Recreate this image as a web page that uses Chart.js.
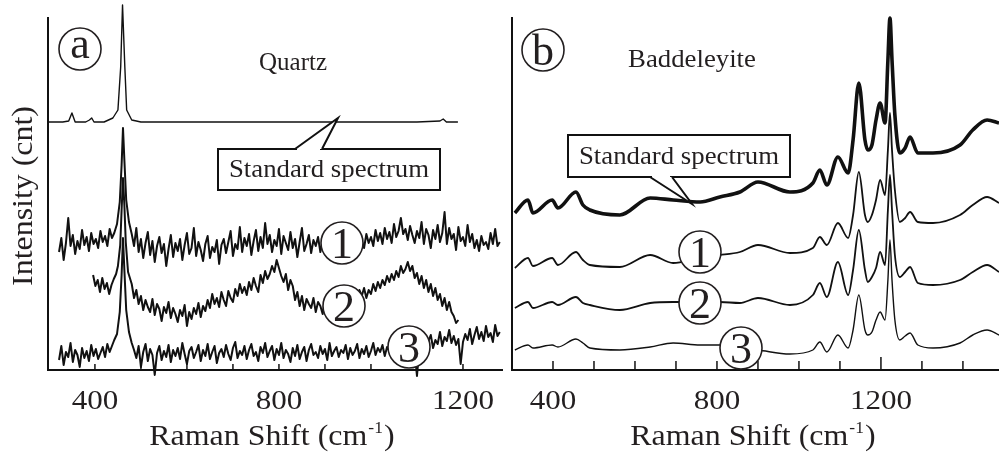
<!DOCTYPE html>
<html>
<head>
<meta charset="utf-8">
<script src="https://cdn.jsdelivr.net/npm/chart.js@4"></script>
<style>
body { margin: 0; background: #fff; }
#wrap { position: relative; width: 999px; height: 458px; }
canvas { position: absolute; top: 0; }
</style>
</head>
<body>
<div id="wrap">
  <canvas id="chartA" width="508" height="458" style="left:0"></canvas>
  <canvas id="chartB" width="499" height="458" style="left:500px"></canvas>
</div>
<script>
// ---- panel (a) quartz ----
const aStdX = [298, 330, 343, 350, 357, 380, 388, 393, 398, 420, 439, 450, 456, 460, 465, 469, 480, 500, 700, 900, 1100, 1150, 1157, 1164, 1189];
const aStd  = [248, 248, 249, 257, 248, 248, 250, 252, 248, 248, 252, 260, 303, 365, 303, 260, 250, 248, 248, 248, 248, 249, 251, 248, 248];

// shared shift grid for spectra 1 and 3
const aX13 = [322, 327, 332, 337, 342, 347, 352, 357, 362, 367, 372, 377, 382, 387, 392, 397, 402, 407, 412, 417, 422, 427, 432, 437, 442,
  448, 454, 458, 461, 464, 468, 474,
  480, 485, 490, 495, 500, 505, 510, 515, 520, 525, 530, 535, 540, 545, 550, 555, 560, 565, 570, 575,
  580, 585, 590, 595, 600, 605, 610, 615, 620, 625, 630, 635, 640, 645, 650, 655, 660, 665, 670, 675,
  680, 685, 690, 695, 700, 705, 710, 715, 720, 725, 730, 735, 740, 745, 750, 755, 760, 765, 770, 775,
  780, 785, 790, 795, 800, 805, 810, 815, 820, 825, 830, 835, 840, 845, 850, 855, 860, 865, 870, 875,
  880, 885, 890, 895, 900, 905, 910, 915, 920, 925, 930, 935, 940, 945, 950, 955, 960, 965, 970, 975,
  980, 985, 990, 995, 1000, 1005, 1010, 1015, 1020, 1025, 1030, 1035, 1040, 1045, 1050, 1055, 1060, 1065, 1070, 1075,
  1080, 1085, 1090, 1095, 1100, 1105, 1110, 1115, 1120, 1125, 1130, 1135, 1140, 1145, 1150, 1155, 1160, 1165, 1170, 1175,
  1180, 1185, 1190, 1195, 1200, 1205, 1210, 1215, 1220, 1225, 1230, 1235, 1240, 1245, 1250, 1255, 1260, 1265, 1270, 1275,
  1280];
const aSpec1 = [118, 132, 110, 127, 152, 124, 135, 116, 129, 121, 140, 125, 133, 119, 137, 126, 131, 122, 139, 128, 134, 124, 141, 132, 137,
  146, 168, 205, 242, 210, 170, 148,
  136, 124, 142, 118, 131, 112, 127, 138, 115, 129, 108, 124, 133, 117, 126, 104, 121, 135, 113, 127,
  119, 131, 110, 125, 137, 116, 122, 142, 114, 128, 120, 109, 126, 134, 112, 123, 118, 130, 106, 125,
  131, 117, 128, 139, 114, 126, 121, 143, 118, 132, 124, 136, 115, 129, 140, 119, 133, 122, 147, 126,
  135, 118, 130, 124, 141, 116, 134, 127, 120, 138, 122, 131, 113, 128, 142, 119, 126, 135, 117, 130,
  124, 133, 118, 129, 121, 136, 127, 123, 130, 125, 119, 132, 124, 128, 121, 135, 126, 118, 131, 124,
  129, 122, 136, 127, 133, 124, 140, 129, 137, 126, 142, 131, 138, 127, 146, 133, 139, 152, 136, 141,
  130, 144, 135, 127, 139, 132, 148, 126, 141, 135, 122, 140, 131, 145, 128, 137, 158, 126, 142, 131,
  136, 120, 143, 129, 133, 124, 145, 128, 136, 122, 130, 119, 134, 125, 128, 121, 137, 126, 141, 124,
  128];
const aSpec3 = [10, 24, 5, 18, 13, 27, 8, 20, 15, 3, 22, 12, 19, 9, 25, 14, 21, 11, 17, 23, 13, 26, 18, 24, 30,
  36, 58, 95, 132, 100, 60, 38,
  27, 20, 12, 24, 3, 18, 26, 9, 21, 15, -5, 17, 24, 10, 19, 13, 25, 8, 20, 14,
  22, 11, 27, 16, 6, 19, 23, 12, 18, 25, 9, 20, 14, 26, 11, 18, 24, 7, 17, 21,
  13, 25, 16, 10, 22, 28, 12, 19, 15, 24, 11, 20, 26, 14, 18, 9, 23, 17, 27, 13,
  19, 24, 10, 21, 15, 27, 12, 20, 16, 8, 22, 14, 25, 11, 18, 23, 9, 20, 26, 15,
  18, 12, 24, 16, 21, 10, 27, 14, 19, 23, 13, 20, 17, 25, 11, 22, 15, 19, 26, 12,
  21, 16, 24, 13, 19, 27, 15, 22, 18, 25, 14, 23, 19, 12, 26, 17, 21, 28, 16, 20,
  24, 15, 22, 18, -6, 20, 27, 31, 23, 29, 35, 22, 30, 26, 38, 24, 33, 29, 40, 27,
  34, 25, 31, 6, 28, 36, 30, 41, 26, 35, 43, 31, 38, 29, 44, 33, 37, 28, 45, 34,
  38];

const aX2 = [396, 401, 406, 411, 416, 421, 426, 431, 436, 441, 446,
  450, 455, 458, 461, 464, 467, 472,
  480, 485, 490, 495, 500, 505, 510, 515, 520, 525, 530, 535, 540, 545, 550, 555, 560, 565, 570, 575,
  580, 585, 590, 595, 600, 605, 610, 615, 620, 625, 630, 635, 640, 645, 650, 655, 660, 665, 670, 675,
  680, 685, 690, 695, 700, 705, 710, 715, 720, 725, 730, 735, 740, 745, 750, 755, 760, 765, 770, 775,
  780, 785, 790, 795, 800, 805, 810, 815, 820, 825, 830, 835, 840, 845, 850, 855, 860, 865, 870, 875,
  880, 885, 890, 895, 900, 905, 910, 915, 920, 925, 930, 935, 940, 945, 950, 955, 960, 965, 970, 975,
  980, 985, 990, 995, 1000, 1005, 1010, 1015, 1020, 1025, 1030, 1035, 1040, 1045, 1050, 1055, 1060, 1065, 1070, 1075,
  1080, 1085, 1090, 1095, 1100, 1105, 1110, 1115, 1120, 1125, 1130, 1135, 1140, 1145, 1150, 1155, 1160, 1165, 1170, 1175,
  1180, 1185, 1190];
const aSpec2 = [95, 84, 90, 78, 92, 81, 87, 76, 85, 91, 96,
  104, 125, 160, 192, 165, 128, 98,
  86, 72, 80, 66, 74, 60, 70, 63, 58, 71, 55, 66, 61, 49, 63, 57, 68, 52, 62, 56,
  48, 60, 54, 65, 44, 58, 51, 62, 56, 67, 53, 64, 59, 70, 62, 76, 66, 72, 63, 78,
  70, 64, 79, 72, 68, 81, 74, 86, 77, 83, 75, 88, 80, 92, 84, 78, 95, 87, 99, 91,
  96, 104, 98, 110, 102, 94, 88, 96, 80, 90, 84, 70, 78, 64, 74, 60, 71, 66, 62, 72,
  58, 68, 64, 56, 70, 62, 67, 60, 72, 65, 70, 63, 74, 66, 72, 78, 68, 76, 70, 80,
  74, 82, 72, 80, 76, 86, 79, 88, 82, 90, 85, 94, 88, 96, 90, 99, 93, 104, 97, 101,
  108, 99, 104, 92, 97, 86, 94, 82, 90, 78, 86, 74, 82, 70, 76, 64, 72, 60, 68, 58,
  54, 47, 50];

// ---- panel (b) baddeleyite ----
const bX = [307, 339, 351, 398, 412, 456, 473, 490, 563, 637, 693, 759, 807, 856, 900, 978, 1034, 1051, 1068, 1095, 1120,
  1132, 1146, 1161, 1168, 1178, 1188, 1198, 1210, 1217, 1222, 1227, 1234, 1246, 1259, 1271, 1290, 1327, 1393, 1424, 1459, 1488];
const bStd = [157, 170, 157, 170, 162, 178, 165, 160, 155, 172, 170, 168, 173, 178, 188, 178, 187, 200, 185, 213, 197,
  230, 287, 230, 220, 225, 250, 267, 247, 310, 352, 310, 255, 217, 222, 233, 217, 217, 225, 240, 250, 247];
const bSpec1 = [102, 112, 104, 112, 105, 118, 110, 105, 103, 115, 107, 113, 115, 118, 125, 117, 122, 133, 125, 147, 132,
  155, 198, 155, 148, 155, 170, 190, 175, 220, 257, 220, 180, 148, 152, 158, 148, 147, 155, 165, 173, 167];
const bSpec2 = [62, 68, 62, 68, 65, 73, 67, 65, 60, 67, 68, 68, 68, 67, 72, 65, 75, 87, 73, 108, 75,
  100, 140, 100, 88, 93, 102, 118, 105, 160, 195, 160, 115, 93, 98, 103, 87, 85, 90, 98, 105, 98];
const bSpec3 = [20, 25, 22, 25, 23, 31, 27, 22, 20, 23, 27, 25, 25, 22, 20, 16, 20, 28, 18, 35, 22,
  40, 75, 40, 35, 38, 50, 58, 50, 90, 130, 90, 50, 30, 34, 37, 25, 22, 27, 35, 40, 35];

const tickLabels = [400, 800, 1200];

const ink = '#231f20';
const serif = '"Liberation Serif", "Times New Roman", serif';
const pts = (xs, ys) => xs.map((x, i) => ({ x: x, y: ys[i] }));

function txt(ctx, s, x, y, size, sx, align) {
  ctx.save();
  ctx.font = size + 'px ' + serif;
  ctx.fillStyle = ink;
  ctx.textAlign = align || 'center';
  ctx.textBaseline = 'alphabetic';
  ctx.translate(x, y);
  ctx.scale(sx, 1);
  ctx.fillText(s, 0, 0);
  ctx.restore();
}

function ramanTitle(ctx, cx, y) {
  const size = 29, sx = 1.1, sup = size * 0.55;
  ctx.save();
  ctx.font = size + 'px ' + serif;
  const w1 = ctx.measureText('Raman Shift (cm').width;
  const w3 = ctx.measureText(')').width;
  ctx.font = sup + 'px ' + serif;
  const w2 = ctx.measureText('-1').width;
  const total = (w1 + w2 + w3 + 2) * sx;
  ctx.translate(cx - total / 2, y);
  ctx.scale(sx, 1);
  ctx.fillStyle = ink;
  ctx.textAlign = 'left';
  ctx.font = size + 'px ' + serif;
  ctx.fillText('Raman Shift (cm', 0, 0);
  ctx.font = sup + 'px ' + serif;
  ctx.fillText('-1', w1 + 1, -size * 0.42);
  ctx.font = size + 'px ' + serif;
  ctx.fillText(')', w1 + w2 + 2, 0);
  ctx.restore();
}

function circled(ctx, cx, cy, ch, dy) {
  ctx.save();
  ctx.beginPath();
  ctx.arc(cx, cy, 21, 0, Math.PI * 2);
  ctx.fillStyle = '#fff';
  ctx.fill();
  ctx.lineWidth = 1.6;
  ctx.strokeStyle = ink;
  ctx.stroke();
  ctx.restore();
  txt(ctx, ch, cx, cy + dy, 44, 1, 'center');
}

function callout(ctx, bx, by, bw, bh, p1, p2, tip, textY) {
  ctx.save();
  ctx.fillStyle = '#fff';
  ctx.fillRect(bx, by, bw, bh);
  ctx.lineWidth = 2;
  ctx.strokeStyle = '#111';
  ctx.strokeRect(bx, by, bw, bh);
  const edge = p1[1];
  ctx.beginPath();
  ctx.moveTo(p1[0], edge); ctx.lineTo(tip[0], tip[1]); ctx.lineTo(p2[0], edge); ctx.closePath();
  ctx.fill();
  ctx.strokeStyle = '#fff';
  ctx.lineWidth = 3;
  ctx.beginPath(); ctx.moveTo(p1[0] + 2, edge); ctx.lineTo(p2[0] - 2, edge); ctx.stroke();
  ctx.strokeStyle = '#111';
  ctx.lineWidth = 2;
  ctx.beginPath(); ctx.moveTo(p1[0], edge); ctx.lineTo(tip[0], tip[1]); ctx.lineTo(p2[0], edge); ctx.stroke();
  ctx.restore();
  txt(ctx, 'Standard spectrum', bx + bw / 2, textY, 26, 1.03, 'center');
}

function drawAxes(chart, from, to, bigTick, tickLen) {
  const ctx = chart.ctx, a = chart.chartArea, x = chart.scales.x;
  ctx.save();
  ctx.strokeStyle = '#111';
  ctx.lineWidth = 2;
  ctx.beginPath();
  ctx.moveTo(a.left, a.top); ctx.lineTo(a.left, a.bottom); ctx.lineTo(a.right, a.bottom);
  ctx.stroke();
  ctx.lineWidth = 1.5;
  for (let v = from; v <= to; v += 100) {
    const px = x.getPixelForValue(v);
    const len = v === bigTick ? tickLen + 4 : tickLen;
    ctx.beginPath(); ctx.moveTo(px, a.bottom); ctx.lineTo(px, a.bottom - len); ctx.stroke();
  }
  ctx.restore();
  tickLabels.forEach(v => txt(ctx, String(v), x.getPixelForValue(v), 409, 27, 1.15, 'center'));
}

const panelA = {
  id: 'panelA',
  afterDatasetsDraw(chart) {
    const ctx = chart.ctx;
    drawAxes(chart, 400, 1200, null, 6);
    ramanTitle(ctx, 272, 445);
    ctx.save();
    ctx.translate(24, 196);
    ctx.rotate(-Math.PI / 2);
    ctx.scale(1.1, 1);
    ctx.font = '29px ' + serif;
    ctx.fillStyle = ink;
    ctx.textAlign = 'center';
    ctx.textBaseline = 'middle';
    ctx.fillText('Intensity (cnt)', 0, 0);
    ctx.restore();
    txt(ctx, 'Quartz', 293, 70, 25, 1, 'center');
    callout(ctx, 218, 149, 222, 41, [295, 149], [322, 149], [338, 118], 177);
    circled(ctx, 80, 49, 'a', 9);
    circled(ctx, 342, 243, '1', 15);
    circled(ctx, 344, 306, '2', 15);
    circled(ctx, 409, 347, '3', 15);
  }
};

const panelB = {
  id: 'panelB',
  afterDatasetsDraw(chart) {
    const ctx = chart.ctx;
    drawAxes(chart, 400, 1400, 1200, 9);
    ramanTitle(ctx, 253, 445);
    txt(ctx, 'Baddeleyite', 192, 67, 26, 1.03, 'center');
    callout(ctx, 68, 135, 222, 42, [150, 177], [172, 177], [192, 204], 164);
    circled(ctx, 43, 50, 'b', 15);
    circled(ctx, 200, 252, '1', 15);
    circled(ctx, 200, 303, '2', 15);
    circled(ctx, 241, 348, '3', 15);
  }
};

const baseOptions = (padLeft, padRight, xmin, xmax) => ({
  animation: false,
  responsive: false,
  layout: { padding: { left: padLeft, right: padRight, top: 17, bottom: 88 } },
  plugins: { legend: { display: false }, tooltip: { enabled: false } },
  elements: { point: { radius: 0 }, line: { borderColor: '#111', borderJoinStyle: 'round' } },
  scales: {
    x: { type: 'linear', min: xmin, max: xmax, display: false },
    y: { min: 0, max: 353, display: false }
  }
});

new Chart(document.getElementById('chartA'), {
  type: 'line',
  data: {
    datasets: [
      { data: pts(aStdX, aStd), borderWidth: 1.4, tension: 0, clip: false },
      { data: pts(aX13, aSpec1), borderWidth: 2, tension: 0, clip: false },
      { data: pts(aX2, aSpec2), borderWidth: 2, tension: 0, clip: false },
      { data: pts(aX13, aSpec3), borderWidth: 2, tension: 0, clip: false }
    ]
  },
  options: baseOptions(48, 5, 298, 1287),
  plugins: [panelA]
});

new Chart(document.getElementById('chartB'), {
  type: 'line',
  data: {
    datasets: [
      { data: pts(bX, bStd), borderWidth: 3.6, cubicInterpolationMode: 'monotone', clip: false },
      { data: pts(bX, bSpec1), borderWidth: 1.8, cubicInterpolationMode: 'monotone', clip: false },
      { data: pts(bX, bSpec2), borderWidth: 1.8, cubicInterpolationMode: 'monotone', clip: false },
      { data: pts(bX, bSpec3), borderWidth: 1.4, cubicInterpolationMode: 'monotone', clip: false }
    ]
  },
  options: baseOptions(12, 0, 300, 1488),
  plugins: [panelB]
});
</script>
</body>
</html>
